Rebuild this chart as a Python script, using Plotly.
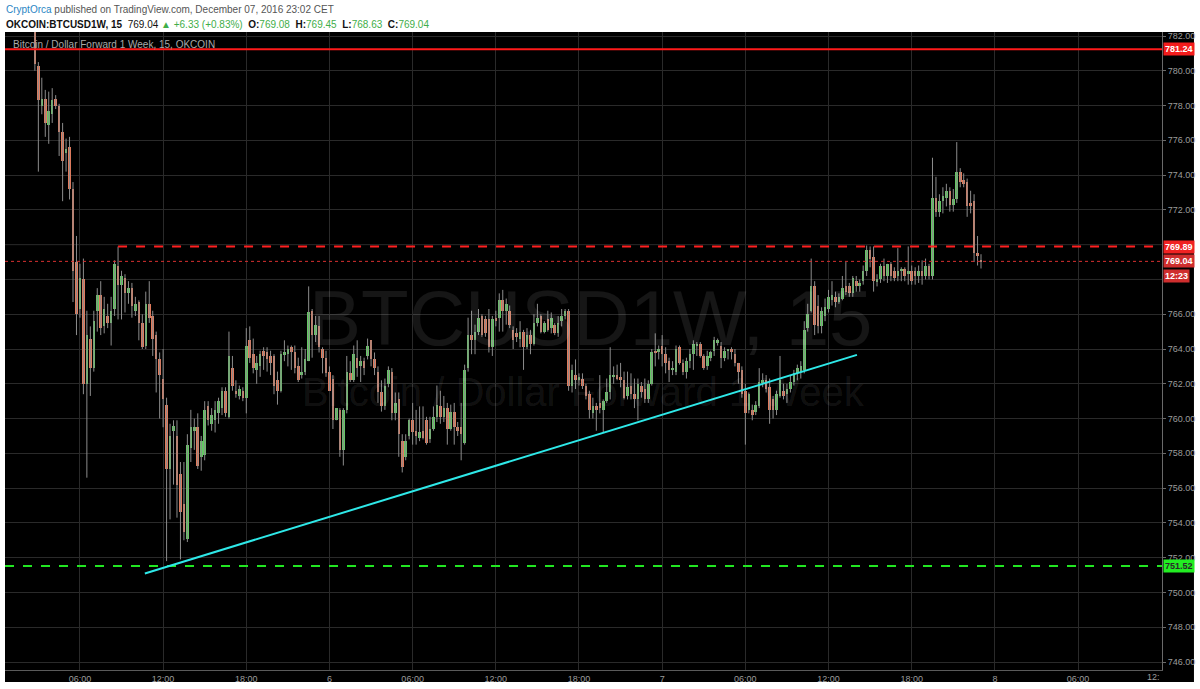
import plotly.graph_objects as go
import pandas as pd

# ---------------- data (15-minute candles, OKCOIN BTCUSD1W) ----------------
bar_start = "2016-12-05 02:45"

open_ = [
    783.2, 780.3, 778.0, 778.4, 776.9, 777.5, 778.4, 778.0, 776.5, 775.3,
    775.6, 773.2, 769.0, 766.3, 768.0, 762.0, 764.6, 762.9, 766.2, 767.1,
    765.3, 765.9, 765.5, 766.3, 768.8, 767.7, 768.1, 767.2, 767.5, 766.2,
    766.7, 765.5, 764.2, 766.6, 765.9, 764.8, 763.4, 762.3, 760.8, 757.1,
    759.3, 759.0, 756.8, 755.1, 753.1, 758.3, 759.3, 759.5, 757.8, 757.9,
    760.7, 759.7, 759.9, 760.3, 760.6, 761.6, 760.1, 762.9, 761.6, 761.3,
    761.6, 761.2, 764.5, 763.7, 762.8, 763.0, 763.9, 763.8, 763.6, 763.6,
    762.2, 761.6, 763.7, 763.7, 764.1, 763.8, 763.0, 762.5, 762.7, 763.3,
    766.2, 764.8, 765.3, 764.0, 763.5, 762.7, 762.3, 759.9, 760.5, 758.2,
    760.5, 762.6, 762.2, 763.5, 763.0, 763.3, 763.6, 764.5, 763.4, 762.7,
    761.5, 760.7, 762.0, 762.7, 760.3, 761.1, 758.7, 757.8, 759.0, 759.9,
    759.3, 758.9, 759.3, 759.9, 758.8, 759.4, 760.1, 760.7, 760.1, 760.6,
    759.4, 760.4, 759.5, 759.5, 758.6, 762.9, 764.8, 764.5, 765.0, 765.9,
    765.7, 765.7, 764.1, 765.8, 765.8, 766.8, 766.2, 766.2, 765.1, 764.9,
    764.6, 765.0, 764.1, 764.8, 764.3, 765.5, 765.9, 765.0, 765.7, 765.2,
    765.4, 764.9, 765.6, 765.9, 766.2, 761.9, 762.5, 762.2, 762.3, 761.9,
    761.4, 760.3, 760.7, 760.9, 760.5, 761.0, 761.5, 762.4, 762.5, 762.4,
    762.2, 761.3, 761.9, 761.4, 761.1, 761.9, 761.7, 761.1, 762.0, 763.9,
    763.8, 764.2, 763.7, 763.3, 762.8, 762.7, 764.1, 763.2, 762.7, 763.3,
    763.7, 764.2, 764.3, 763.6, 763.0, 763.5, 763.9, 764.4, 764.2, 763.5,
    763.9, 764.0, 763.7, 763.2, 762.8, 761.6, 760.5, 760.5, 760.4, 760.7,
    762.1, 762.2, 761.8, 761.1, 760.5, 761.3, 761.6, 761.4, 761.7, 762.1,
    762.6, 762.7, 762.8, 765.2, 766.2, 767.6, 766.5, 765.3, 765.9, 766.3,
    766.8, 767.0, 766.7, 766.9, 767.6, 767.6, 767.2, 767.9, 767.6, 767.9,
    768.5, 769.7, 769.3, 767.9, 768.0, 768.8, 768.2, 768.9, 768.5, 768.2,
    768.5, 768.6, 768.3, 768.5, 768.5, 768.2, 768.5, 768.2, 768.8, 768.2,
    772.7, 771.9, 772.5, 772.7, 773.1, 772.3, 772.6, 774.2, 773.7, 773.6,
    772.4, 772.5, 769.5, 769.08,
]

high = [
    784.0, 780.5, 779.6, 778.9, 778.8, 779.0, 778.6, 778.1, 777.0, 776.1,
    776.2, 773.6, 770.5, 768.9, 769.2, 766.2, 765.3, 766.2, 767.5, 767.9,
    767.0, 766.6, 767.0, 769.1, 769.89, 768.5, 768.3, 767.9, 767.8, 767.0,
    766.8, 766.0, 767.3, 767.9, 766.2, 765.0, 763.8, 764.0, 761.2, 759.7,
    759.9, 759.9, 757.5, 757.5, 759.1, 760.5, 760.0, 760.3, 759.0, 761.0,
    761.0, 760.6, 761.0, 761.2, 761.8, 761.8, 765.0, 763.6, 762.2, 761.9,
    761.8, 765.2, 765.3, 764.6, 763.6, 763.9, 764.1, 764.1, 763.9, 763.7,
    762.7, 763.9, 764.5, 764.2, 764.2, 764.2, 763.5, 764.1, 764.0, 767.6,
    766.3, 765.9, 765.9, 764.1, 763.9, 763.0, 762.5, 760.6, 760.6, 760.6,
    763.6, 763.3, 764.2, 764.5, 763.6, 763.5, 764.6, 764.5, 763.8, 763.0,
    762.2, 762.3, 763.0, 762.9, 761.5, 761.5, 759.1, 759.1, 760.0, 760.9,
    760.5, 760.7, 760.7, 760.1, 760.1, 760.7, 761.9, 761.6, 761.3, 760.9,
    760.8, 760.9, 759.8, 760.9, 763.1, 765.8, 766.2, 765.4, 766.3, 766.0,
    765.9, 766.3, 765.9, 766.2, 767.2, 767.4, 766.9, 766.5, 765.3, 765.2,
    765.6, 765.1, 765.2, 765.1, 766.0, 766.6, 766.0, 765.6, 766.2, 766.1,
    765.5, 765.9, 766.3, 766.3, 766.3, 763.1, 763.4, 762.6, 762.6, 762.0,
    761.6, 761.2, 760.9, 762.5, 761.1, 762.3, 764.1, 763.0, 763.1, 763.2,
    762.7, 762.7, 762.6, 762.3, 762.3, 762.1, 762.3, 762.2, 764.0, 764.9,
    764.2, 764.8, 764.1, 763.5, 763.3, 764.2, 764.2, 763.4, 763.5, 764.0,
    764.5, 764.4, 764.4, 763.7, 763.9, 763.9, 764.7, 764.6, 764.4, 764.1,
    764.0, 764.1, 764.0, 763.2, 763.0, 762.0, 761.5, 760.8, 761.0, 762.9,
    762.6, 762.5, 762.3, 761.3, 761.6, 763.6, 762.0, 762.0, 762.5, 762.8,
    763.1, 763.3, 765.6, 766.6, 769.2, 767.9, 767.1, 766.4, 766.9, 767.4,
    767.9, 767.3, 767.2, 768.2, 769.0, 767.8, 768.2, 768.2, 768.0, 768.8,
    769.95, 769.9, 769.9, 768.3, 768.9, 769.2, 768.9, 769.0, 768.7, 769.8,
    768.7, 768.7, 769.9, 768.8, 768.7, 768.8, 769.1, 769.2, 768.9, 775.0,
    773.9, 772.9, 773.3, 773.5, 773.3, 773.2, 775.9, 774.4, 774.1, 773.8,
    773.1, 772.9, 770.5, 769.45,
]

low = [
    780.0, 774.2, 777.5, 776.2, 775.8, 777.0, 777.8, 775.1, 772.5, 774.2,
    772.6, 766.7, 764.8, 765.8, 761.4, 756.6, 761.3, 762.7, 765.0, 764.8,
    764.9, 765.2, 764.2, 765.9, 765.7, 765.7, 766.1, 766.6, 765.8, 765.9,
    764.5, 764.0, 764.0, 765.5, 763.6, 761.5, 760.0, 759.5, 751.8, 754.2,
    756.2, 754.3, 751.9, 753.0, 752.9, 757.5, 758.2, 757.1, 757.0, 757.6,
    759.6, 759.3, 759.2, 759.7, 760.2, 760.1, 760.0, 761.6, 761.2, 761.1,
    761.0, 760.3, 763.2, 762.6, 762.0, 762.4, 762.8, 762.7, 762.5, 761.4,
    760.8, 761.5, 763.3, 763.0, 762.8, 762.6, 762.1, 762.3, 762.5, 763.3,
    763.5, 764.4, 763.8, 762.6, 762.4, 761.6, 759.4, 759.9, 757.8, 757.3,
    760.3, 762.1, 762.1, 762.4, 762.1, 762.5, 763.4, 763.0, 762.5, 760.9,
    760.4, 760.5, 761.8, 759.9, 759.9, 757.8, 756.9, 757.6, 758.8, 758.5,
    758.5, 758.7, 758.8, 758.5, 758.6, 759.3, 759.8, 759.7, 759.8, 758.5,
    759.3, 758.5, 759.0, 757.6, 758.5, 762.7, 763.7, 763.7, 764.8, 764.7,
    764.7, 763.8, 763.6, 765.3, 765.0, 765.0, 765.4, 765.2, 764.0, 764.4,
    764.1, 762.8, 764.0, 763.7, 764.2, 765.3, 764.9, 764.9, 765.0, 764.9,
    764.8, 764.7, 765.3, 765.7, 761.6, 761.5, 761.7, 761.9, 761.7, 761.1,
    760.0, 760.0, 759.3, 760.3, 759.2, 760.9, 761.1, 762.0, 762.2, 761.8,
    761.1, 761.1, 761.1, 760.6, 759.9, 761.2, 760.9, 760.9, 761.9, 763.0,
    763.4, 763.0, 762.6, 762.1, 762.5, 762.5, 763.1, 762.5, 762.3, 762.9,
    762.8, 763.6, 763.5, 762.8, 762.8, 763.3, 763.6, 764.2, 762.9, 763.3,
    763.4, 763.4, 763.0, 762.0, 761.2, 758.5, 760.3, 759.9, 760.2, 760.6,
    761.8, 761.5, 759.7, 760.0, 760.2, 761.2, 761.1, 760.9, 761.5, 761.9,
    762.2, 762.3, 762.6, 765.0, 766.1, 764.8, 764.9, 764.9, 765.6, 766.1,
    766.5, 766.4, 766.6, 766.8, 767.1, 767.0, 767.0, 767.3, 767.3, 767.7,
    768.2, 768.7, 767.3, 767.6, 767.8, 767.9, 767.8, 767.9, 767.9, 767.9,
    767.9, 767.9, 767.7, 767.7, 767.7, 767.8, 767.7, 768.0, 768.0, 768.0,
    771.6, 771.6, 771.8, 772.2, 771.9, 771.9, 772.4, 773.3, 773.3, 771.6,
    771.8, 769.0, 768.8, 768.63,
]

close = [
    780.4, 778.3, 778.4, 777.0, 777.7, 778.3, 778.0, 776.5, 774.8, 775.5,
    773.2, 768.5, 766.0, 768.1, 762.0, 764.8, 762.9, 765.6, 767.1, 765.2,
    766.3, 765.5, 766.2, 768.9, 767.7, 768.2, 767.2, 767.5, 766.5, 766.6,
    765.5, 764.1, 766.6, 765.8, 764.6, 763.4, 762.5, 761.1, 757.1, 759.0,
    759.6, 756.2, 754.6, 753.5, 758.5, 759.5, 759.5, 757.3, 758.7, 760.5,
    759.9, 760.2, 760.5, 761.0, 761.6, 760.3, 763.6, 761.9, 761.4, 761.7,
    761.2, 764.2, 763.5, 762.9, 763.2, 763.7, 763.6, 763.4, 763.2, 761.9,
    761.6, 763.7, 763.8, 764.0, 763.8, 762.9, 762.2, 762.7, 763.4, 766.1,
    764.8, 765.4, 764.1, 763.5, 762.6, 761.6, 759.9, 760.6, 758.2, 760.5,
    762.7, 762.2, 763.7, 762.9, 763.3, 762.9, 764.2, 763.4, 762.9, 761.5,
    760.7, 761.9, 762.8, 760.3, 760.9, 759.1, 757.2, 758.7, 759.9, 759.2,
    759.0, 759.2, 758.9, 758.6, 759.4, 760.1, 760.8, 760.1, 760.6, 759.4,
    760.4, 759.5, 759.3, 759.1, 762.8, 764.8, 764.5, 765.0, 765.8, 764.8,
    764.9, 764.1, 765.7, 765.6, 766.8, 766.2, 766.6, 765.4, 764.5, 764.7,
    765.0, 764.1, 764.8, 764.3, 765.5, 765.8, 765.0, 765.5, 765.1, 765.8,
    764.9, 765.5, 765.9, 766.2, 761.9, 762.8, 762.2, 762.4, 761.9, 761.3,
    760.5, 760.7, 760.5, 760.6, 761.0, 761.5, 762.5, 762.5, 762.3, 762.2,
    761.2, 761.8, 761.4, 761.1, 762.0, 761.5, 761.1, 762.0, 763.8, 763.8,
    764.0, 763.7, 763.2, 762.8, 762.9, 764.0, 763.2, 762.7, 763.3, 763.7,
    764.3, 764.3, 763.6, 762.9, 763.6, 763.8, 764.5, 764.5, 763.5, 763.9,
    764.0, 763.8, 763.2, 762.7, 761.4, 760.3, 761.4, 760.2, 760.8, 762.1,
    762.2, 761.7, 760.5, 760.5, 761.4, 762.2, 761.3, 761.7, 762.1, 762.6,
    762.9, 763.0, 765.1, 766.0, 767.6, 765.4, 765.3, 766.2, 766.4, 767.0,
    767.1, 766.7, 767.0, 767.5, 767.3, 767.2, 768.1, 767.6, 767.8, 768.5,
    769.7, 769.2, 767.9, 768.0, 768.8, 768.2, 768.9, 768.2, 768.1, 768.5,
    768.6, 768.2, 768.5, 767.9, 768.2, 768.5, 768.2, 768.8, 768.2, 772.7,
    771.9, 772.5, 772.8, 773.1, 772.3, 772.6, 774.2, 773.6, 773.5, 772.2,
    772.2, 769.5, 769.4, 769.04,
]

# time-axis labels (TradingView style)
tick_times = [
    "2016-12-05 06:00", "2016-12-05 12:00", "2016-12-05 18:00",
    "2016-12-06 00:00", "2016-12-06 06:00", "2016-12-06 12:00", "2016-12-06 18:00",
    "2016-12-07 00:00", "2016-12-07 06:00", "2016-12-07 12:00", "2016-12-07 18:00",
    "2016-12-08 00:00", "2016-12-08 06:00",
]
tick_text = ["06:00", "12:00", "18:00", "6", "06:00", "12:00", "18:00",
             "7", "06:00", "12:00", "18:00", "8", "06:00"]

# price-axis labels (770 and 768 sit behind the price tags)
price_ticks = [746, 748, 750, 752, 754, 756, 758, 760, 762, 764, 766, 772, 774, 776, 778, 780, 782]
hidden_grid = [768, 770]

# drawn levels / trend line
level_top = 781.24
level_mid = 769.89
level_mid_from = "2016-12-05 08:45"
last_price = 769.04
level_support = 751.52
trend_times = ["2016-12-05 10:41", "2016-12-07 14:03"]
trend_prices = [751.09, 763.66]

x_range = ["2016-12-05 00:35:40", "2016-12-08 12:03:20"]
y_range = [745.54, 782.23]

# ---------------- styling ----------------
UP = "#63c663"
DOWN = "#e07a5c"
WICK = "#8c8c8c"
GRID = "#2a2a2a"
AXIS_TXT = "#9c9c9c"
FONT = "Liberation Sans"

times = pd.date_range(bar_start, periods=len(close), freq="15min")

wick_x, wick_y = [], []
for t, h, l in zip(times, high, low):
    wick_x += [t, t, None]
    wick_y += [l, h, None]

body_base = [min(o, c) for o, c in zip(open_, close)]
body_h = [max(abs(c - o), 0.06) for o, c in zip(open_, close)]
body_col = [UP if c >= o else DOWN for o, c in zip(open_, close)]

fig = go.Figure()
fig.add_trace(go.Scatter(x=wick_x, y=wick_y, mode="lines",
                         line=dict(color=WICK, width=1), hoverinfo="skip"))
fig.add_trace(go.Bar(x=times, y=body_h, base=body_base,
                     width=15 * 60 * 1000 * 0.74,
                     marker=dict(color=body_col, line=dict(width=0)),
                     hoverinfo="skip"))

L, R, T, B = 5, 37, 32, 15
W, H = 1200, 689
pw, ph = W - L - R, H - T - B


def px_x(px):
    return (px - L) / pw


def px_y(py):
    return 1 - (py - T) / ph


shapes = [
    # black chart panel incl. axis areas
    dict(type="rect", xref="paper", yref="paper", x0=px_x(5), x1=px_x(1195),
         y0=px_y(686), y1=1, fillcolor="#000000", line=dict(width=0), layer="below"),
]
for g in hidden_grid:
    shapes.append(dict(type="line", xref="paper", yref="y", x0=0, x1=1, y0=g, y1=g,
                       line=dict(color=GRID, width=1), layer="below"))
shapes += [
    dict(type="line", xref="paper", yref="y", x0=0, x1=1, y0=level_top, y1=level_top,
         line=dict(color="#ff1a1a", width=2)),
    dict(type="line", xref="x", yref="y", x0=level_mid_from, x1=x_range[1],
         y0=level_mid, y1=level_mid, line=dict(color="#ff2020", width=2, dash="dash")),
    dict(type="line", xref="paper", yref="y", x0=0, x1=1, y0=last_price, y1=last_price,
         line=dict(color="#d83030", width=1, dash="dot")),
    dict(type="line", xref="paper", yref="y", x0=0, x1=1, y0=level_support, y1=level_support,
         line=dict(color="#22e622", width=2, dash="dash")),
    dict(type="line", xref="x", yref="y", x0=trend_times[0], x1=trend_times[1],
         y0=trend_prices[0], y1=trend_prices[1], line=dict(color="#2ee8e8", width=2)),
]

green = "#3fae49"
header1 = ('<span style="color:#2a86c4">CryptOrca</span>'
           '<span style="color:#555555"> published on TradingView.com, December 07, 2016 23:02 CET</span>')
header2 = ('<b>OKCOIN:BTCUSD1W, 15</b>  769.04 '
           f'<span style="color:{green}">▲ +6.33 (+0.83%)</span>  '
           f'<b>O:</b><span style="color:{green}">769.08</span>  '
           f'<b>H:</b><span style="color:{green}">769.45</span>  '
           f'<b>L:</b><span style="color:{green}">768.63</span>  '
           f'<b>C:</b><span style="color:{green}">769.04</span>')

annotations = [
    dict(xref="paper", yref="paper", x=px_x(4), y=px_y(9), xanchor="left", yanchor="middle",
         text=header1, showarrow=False, font=dict(family=FONT, size=10, color="#555555")),
    dict(xref="paper", yref="paper", x=px_x(4), y=px_y(24), xanchor="left", yanchor="middle",
         text=header2, showarrow=False, font=dict(family=FONT, size=10, color="#111111")),
    dict(xref="paper", yref="paper", x=px_x(11), y=px_y(45), xanchor="left", yanchor="middle",
         text="Bitcoin / Dollar Forward 1 Week, 15, OKCOIN", showarrow=False,
         font=dict(family=FONT, size=10, color="#a8a8a8")),
    # watermark
    dict(xref="paper", yref="paper", x=px_x(591), y=px_y(320), xanchor="center", yanchor="middle",
         text="BTCUSD1W, 15", showarrow=False,
         font=dict(family=FONT, size=78, color="rgba(255,255,255,0.085)")),
    dict(xref="paper", yref="paper", x=px_x(584), y=px_y(394), xanchor="center", yanchor="middle",
         text="Bitcoin / Dollar Forward 1 Week", showarrow=False,
         font=dict(family=FONT, size=40, color="rgba(255,255,255,0.085)")),
    # clipped last time label
    dict(xref="paper", yref="paper", x=1, y=px_y(681), xanchor="right", yanchor="middle",
         text="12:", showarrow=False, font=dict(family=FONT, size=9, color=AXIS_TXT)),
]


def price_tag(value, bg, fg, text=None, yshift=0):
    return dict(xref="paper", yref="y", x=1, y=value, xanchor="left", yanchor="middle",
                xshift=1, yshift=yshift, showarrow=False,
                text=f"<b>{text if text else f'{value:.2f}'}</b>",
                bgcolor=bg, borderpad=1, font=dict(family=FONT, size=9, color=fg))


annotations += [
    price_tag(level_top, "#f41c1c", "#ffffff"),
    price_tag(level_mid, "#f02222", "#ffffff"),
    price_tag(last_price, "#cf2e2e", "#ffffff"),
    price_tag(last_price, "#cf2e2e", "#ffffff", text="12:23", yshift=-15),
    price_tag(level_support, "#22ee22", "#2a2a2a"),
]

fig.update_layout(
    width=W, height=H,
    margin=dict(l=L, r=R, t=T, b=B),
    paper_bgcolor="#ffffff", plot_bgcolor="#000000",
    showlegend=False, hovermode=False, bargap=0,
    shapes=shapes, annotations=annotations,
    xaxis=dict(type="date", range=x_range, tickvals=tick_times, ticktext=tick_text,
               showgrid=True, gridcolor=GRID, gridwidth=1, zeroline=False,
               ticks="", showline=True, linecolor="#5a5a5a", linewidth=1,
               tickfont=dict(family=FONT, size=9, color=AXIS_TXT),
               rangeslider=dict(visible=False), fixedrange=True),
    yaxis=dict(side="right", range=y_range, tickvals=price_ticks, tickformat=".2f",
               showgrid=True, gridcolor=GRID, gridwidth=1, zeroline=False,
               ticks="outside", ticklen=3, tickcolor="#6a6a6a",
               showline=True, linecolor="#6a6a6a", linewidth=1,
               tickfont=dict(family=FONT, size=9, color=AXIS_TXT), fixedrange=True),
)

fig.write_html("out.html", config={"displayModeBar": False},
               post_script="document.body.style.margin='0';document.body.style.overflow='hidden';")
